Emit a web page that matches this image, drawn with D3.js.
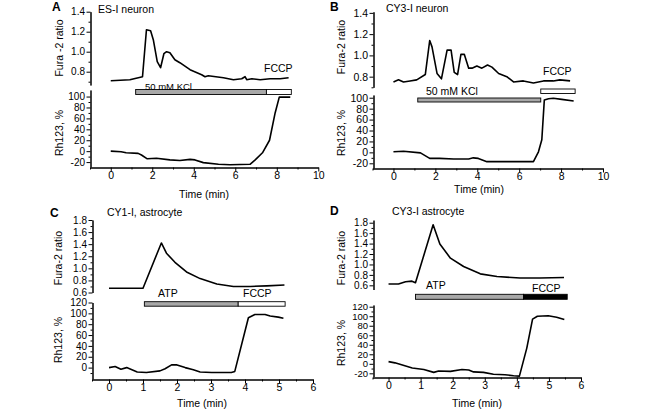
<!DOCTYPE html>
<html><head><meta charset="utf-8">
<script src="https://cdn.jsdelivr.net/npm/d3@7"></script>
<style>
body{margin:0;background:#fff}
text{font-family:"Liberation Sans",Arial,Helvetica,sans-serif;fill:#000}
</style>
</head><body>
<svg id="chart" width="660" height="410"></svg>
<script>
// ---------- DATA ----------
// Panel A: ES-I neuron
const aFuraTime = [0, 0.92, 1.53, 1.72, 1.92, 2.05, 2.24, 2.4, 2.56, 2.69, 2.85, 3.09, 3.33, 3.82, 4.38, 4.54, 4.7, 5.43, 5.91, 6.31, 6.47, 6.55, 6.8, 7.2, 7.68, 8.16, 8.57];
const aFuraVal  = [0.71, 0.72, 0.75, 1.22, 1.21, 1.12, 0.90, 0.84, 0.98, 1.00, 0.99, 0.92, 0.89, 0.82, 0.77, 0.75, 0.76, 0.74, 0.72, 0.73, 0.75, 0.72, 0.73, 0.72, 0.73, 0.73, 0.74];
const aRhTime = [0, 0.5, 0.74, 1.32, 1.48, 1.76, 2.2, 2.85, 3.33, 3.82, 4.06, 4.46, 5.19, 5.75, 6.71, 6.96, 7.31, 7.65, 7.92, 8.12, 8.65];
const aRhVal  = [0, -1, -3, -4, -7, -14, -13, -16, -17, -15, -16, -21, -24, -25, -24, -16, -3, 20, 70, 99, 99];
// Panel B: CY3-I neuron
const bFuraTime = [0, 0.24, 0.48, 0.79, 1.11, 1.52, 1.73, 1.84, 2.08, 2.29, 2.56, 2.75, 2.9, 3.06, 3.22, 3.38, 3.59, 3.75, 3.98, 4.22, 4.49, 4.7, 5.02, 5.41, 5.73, 6.2, 6.68, 7.16, 7.63, 7.94, 8.43];
const bFuraVal  = [0.75, 0.77, 0.75, 0.76, 0.77, 0.82, 1.14, 1.08, 0.83, 0.78, 1.05, 1.05, 0.84, 0.82, 1.01, 1.01, 0.88, 0.88, 0.90, 0.88, 0.91, 0.89, 0.83, 0.80, 0.75, 0.76, 0.74, 0.76, 0.76, 0.77, 0.76];
const bRhTime = [0, 0.48, 1.29, 1.73, 2.2, 2.87, 3.59, 3.81, 4.05, 4.46, 5.41, 6.05, 6.68, 6.92, 7.08, 7.2, 7.4, 7.63, 8.03, 8.6];
const bRhVal  = [1, 2, -1, -11, -11, -12, -12, -10, -11, -17, -17, -17, -17, 1, 23, 96, 98, 99, 97, 94];
// Panel C: CY1-I, astrocyte
const cFuraTime = [0, 1.0, 1.54, 1.69, 1.94, 2.28, 2.68, 3.17, 3.66, 4.15, 4.64, 5.16];
const cFuraVal  = [0.67, 0.67, 1.42, 1.25, 1.10, 0.94, 0.83, 0.74, 0.70, 0.70, 0.71, 0.725];
const cRhTime = [0, 0.18, 0.35, 0.52, 0.83, 1.1, 1.5, 1.65, 1.84, 2.0, 2.24, 2.48, 2.68, 3.02, 3.6, 3.7, 4.1, 4.29, 4.59, 4.74, 4.98, 5.13];
const cRhVal  = [0, 2, -3, 0, -8, -9, -6, -2, 5, 5, 0, -4, -8, -9, -9, -7, 92, 98, 98, 95, 93, 91];
// Panel D: CY3-I astrocyte
const dFuraTime = [0, 0.31, 0.53, 0.73, 0.84, 1.39, 1.6, 1.93, 2.34, 2.86, 3.38, 4.1, 4.72, 5.47];
const dFuraVal  = [0.625, 0.625, 0.67, 0.68, 0.65, 1.76, 1.39, 1.12, 0.96, 0.82, 0.77, 0.74, 0.74, 0.75];
const dRhTime = [0, 0.2, 0.74, 1.1, 1.41, 1.56, 1.93, 2.29, 2.5, 2.65, 2.96, 3.27, 3.63, 3.9, 4.08, 4.31, 4.49, 4.64, 4.98, 5.24, 5.48];
const dRhVal  = [4.5, 2, -9, -12, -18, -15, -16, -12, -13, -17, -18, -22, -23, -25, -26, 33, 94, 100, 101, 98, 93];
// Stimulus periods [start, end] (min)
const aKCl = [1.2, 7.5],  aFCCP = [7.5, 8.7];
const bKCl = [1.16, 7.03], bFCCP = [7.03, 8.67];
const cATP = [1.04, 3.8], cFCCP = [3.8, 5.18];
const dATP = [0.84, 4.21], dFCCP = [4.21, 5.57];
// Tick values
const neuronTimeTicks = [0, 2, 4, 6, 8, 10];
const neuronTimeMinor = [-1, 1, 3, 5, 7, 9];
const astroTimeTicks = [0, 1, 2, 3, 4, 5, 6];
const astroTimeMinor = [-0.5, 0.5, 1.5, 2.5, 3.5, 4.5, 5.5];
const neuronFuraTicks = [0.8, 1.0, 1.2, 1.4];
const neuronFuraMinor = [0.7, 0.9, 1.1, 1.3];
const astroFuraTicks = [0.6, 0.8, 1.0, 1.2, 1.4, 1.6, 1.8];
const astroFuraMinor = [0.7, 0.9, 1.1, 1.3, 1.5, 1.7];
const rhTicksNeg = [-20, 0, 20, 40, 60, 80, 100];
const rhMinorNeg = [-10, 10, 30, 50, 70, 90];
const rhTicksC = [0, 20, 40, 60, 80, 100, 120];
const rhMinorC = [-10, 10, 30, 50, 70, 90, 110];
const rhTicksD = [-20, 0, 20, 40, 60, 80, 100, 120];
const rhMinorD = [-10, 10, 30, 50, 70, 90, 110];

// ---------- DRAW ----------
const svg = d3.select('#chart');
const FS = 10.5;

function drawPanel(p) {
  const g = svg.append('g');
  const x = d3.scaleLinear().domain(p.xDom).range(p.xRange);
  const yT = d3.scaleLinear().domain(p.furaDom).range(p.furaRange);
  const yB = d3.scaleLinear().domain(p.rhDom).range(p.rhRange);
  const ax = Math.round(p.xRange[0]) + 0.5;
  const ay = Math.round(p.rhRange[0]) + 0.5;

  function yAxis(scale, major, minor, fmt, fs) {
    g.append('g').attr('transform', `translate(${ax},0)`)
      .call(d3.axisLeft(scale).tickValues(minor).tickSize(2).tickSizeOuter(0).tickFormat(''));
    const a = g.append('g').attr('transform', `translate(${ax},0)`)
      .call(d3.axisLeft(scale).tickValues(major).tickSize(4).tickSizeOuter(0).tickPadding(1.5).tickFormat(fmt));
    a.selectAll('.tick text').attr('font-size', fs);
  }
  yAxis(yT, p.furaTicks, p.furaMinor, d3.format('.1f'), p.tickFs);
  yAxis(yB, p.rhTicks, p.rhMinor, d => String(d), p.rhFs || p.tickFs);
  g.append('g').attr('transform', `translate(0,${ay})`)
    .call(d3.axisBottom(x).tickValues(p.xMinor).tickSize(2).tickSizeOuter(0).tickFormat(''));
  g.append('g').attr('transform', `translate(0,${ay})`)
    .call(d3.axisBottom(x).tickValues(p.xTicks).tickSize(4).tickSizeOuter(0).tickPadding(0).tickFormat(d => String(d)))
    .selectAll('.tick text').attr('font-size', FS);

  g.selectAll('.domain').attr('stroke', '#000').attr('stroke-width', 1);
  g.selectAll('.tick line').attr('stroke', '#000');
  g.selectAll('.tick text').attr('font-family', '"Liberation Sans",Arial,sans-serif').attr('fill', '#000');

  // stimulus bars
  p.bars.forEach(b => {
    g.append('rect')
      .attr('x', x(b.range[0])).attr('y', b.y)
      .attr('width', x(b.range[1]) - x(b.range[0])).attr('height', b.h)
      .attr('fill', b.fill).attr('stroke', '#000').attr('stroke-width', 0.9);
  });
  p.labels.forEach(l => {
    g.append('text').attr('x', l.x).attr('y', l.y).attr('font-size', l.fs || FS).text(l.t);
  });

  const line = (xs, ys, sy) => d3.line().x(i => x(xs[i])).y(i => sy(ys[i]))(d3.range(xs.length));
  g.append('path').attr('d', line(p.furaT, p.furaV, yT)).attr('fill', 'none').attr('stroke', '#000').attr('stroke-width', 1.6).attr('stroke-linejoin', 'round');
  g.append('path').attr('d', line(p.rhT, p.rhV, yB)).attr('fill', 'none').attr('stroke', '#000').attr('stroke-width', 1.6).attr('stroke-linejoin', 'round');

  // titles
  g.append('text').attr('x', p.letter[0]).attr('y', p.letter[1]).attr('font-size', 12).attr('font-weight', 'bold').text(p.letterT);
  g.append('text').attr('x', p.title[0]).attr('y', p.title[1]).attr('font-size', FS).text(p.titleT);
  g.append('text').attr('transform', `translate(${p.furaLab[0]},${p.furaLab[1]}) rotate(-90)`)
    .attr('text-anchor', 'middle').attr('font-size', FS).text(p.furaLabT);
  g.append('text').attr('transform', `translate(${p.rhLab[0]},${p.rhLab[1]}) rotate(-90)`)
    .attr('text-anchor', 'middle').attr('font-size', FS).text('Rh123, %');
  g.append('text').attr('x', p.timeLab[0]).attr('y', p.timeLab[1]).attr('text-anchor', 'middle').attr('font-size', FS).text('Time (min)');
}

drawPanel({
  xDom: [-1, 10], xRange: [90, 318.3],
  furaDom: [0.667, 1.4], furaRange: [85, 11.7],
  rhDom: [-29, 112], rhRange: [167, 90],
  xTicks: neuronTimeTicks, xMinor: neuronTimeMinor,
  furaTicks: neuronFuraTicks, furaMinor: neuronFuraMinor,
  rhTicks: rhTicksNeg, rhMinor: rhMinorNeg, tickFs: 10,
  furaT: aFuraTime, furaV: aFuraVal, rhT: aRhTime, rhV: aRhVal,
  bars: [{range: aKCl, y: 89.5, h: 5, fill: '#a8a8a8'}, {range: aFCCP, y: 89.5, h: 5, fill: '#fff'}],
  labels: [{t: '50 mM KCl', x: 145, y: 89.5, fs: 9.5}, {t: 'FCCP', x: 264, y: 72}],
  letter: [52, 11], letterT: 'A', title: [98, 12.5], titleT: 'ES-I neuron',
  furaLab: [63, 48], furaLabT: 'Fura -2 ratio', rhLab: [63, 133], timeLab: [204, 197.5]
});
drawPanel({
  xDom: [-1, 10], xRange: [372.5, 603],
  furaDom: [0.70, 1.41], furaRange: [87.3, 11.8],
  rhDom: [-28.6, 105], rhRange: [168, 95],
  xTicks: neuronTimeTicks, xMinor: neuronTimeMinor,
  furaTicks: neuronFuraTicks, furaMinor: neuronFuraMinor,
  rhTicks: rhTicksNeg, rhMinor: rhMinorNeg, tickFs: 10.5,
  furaT: bFuraTime, furaV: bFuraVal, rhT: bRhTime, rhV: bRhVal,
  bars: [{range: bKCl, y: 98, h: 4, fill: '#a8a8a8'}, {range: bFCCP, y: 89, h: 4.5, fill: '#fff'}],
  labels: [{t: '50 mM KCl', x: 426, y: 95}, {t: 'FCCP', x: 543, y: 75}],
  letter: [330, 10.5], letterT: 'B', title: [386, 12], titleT: 'CY3-I neuron',
  furaLab: [345, 47], furaLabT: 'Fura-2 ratio', rhLab: [345, 133], timeLab: [479, 193]
});
drawPanel({
  xDom: [-0.5, 6], xRange: [92, 313],
  furaDom: [0.6, 1.8], furaRange: [292.5, 220],
  rhDom: [-21, 120], rhRange: [379, 302.5],
  xTicks: astroTimeTicks, xMinor: astroTimeMinor,
  furaTicks: astroFuraTicks, furaMinor: astroFuraMinor,
  rhTicks: rhTicksC, rhMinor: rhMinorC, tickFs: 10,
  furaT: cFuraTime, furaV: cFuraVal, rhT: cRhTime, rhV: cRhVal,
  bars: [{range: cATP, y: 301.7, h: 4.5, fill: '#a8a8a8'}, {range: cFCCP, y: 301.7, h: 4.5, fill: '#fff'}],
  labels: [{t: 'ATP', x: 158, y: 297}, {t: 'FCCP', x: 243, y: 297}],
  letter: [50, 217], letterT: 'C', title: [107, 216], titleT: 'CY1-I, astrocyte',
  furaLab: [62, 258], furaLabT: 'Fura-2 ratio', rhLab: [62, 340], timeLab: [202, 407]
});
drawPanel({
  xDom: [-0.5, 6], xRange: [372.5, 581],
  furaDom: [0.52, 1.85], furaRange: [289.5, 220.1],
  rhDom: [-26.7, 123.6], rhRange: [376.5, 305],
  xTicks: astroTimeTicks, xMinor: astroTimeMinor,
  furaTicks: astroFuraTicks, furaMinor: astroFuraMinor,
  rhTicks: rhTicksD, rhMinor: rhMinorD, tickFs: 10, rhFs: 9.5,
  furaT: dFuraTime, furaV: dFuraVal, rhT: dRhTime, rhV: dRhVal,
  bars: [{range: dATP, y: 294.3, h: 5, fill: '#a8a8a8'}, {range: dFCCP, y: 294.3, h: 5, fill: '#000'}],
  labels: [{t: 'ATP', x: 426, y: 289}, {t: 'FCCP', x: 532, y: 292}],
  letter: [330, 215], letterT: 'D', title: [392, 215], titleT: 'CY3-I astrocyte',
  furaLab: [345, 258], furaLabT: 'Fura-2 ratio', rhLab: [345, 343], timeLab: [477, 407]
});
</script>
</body></html>
